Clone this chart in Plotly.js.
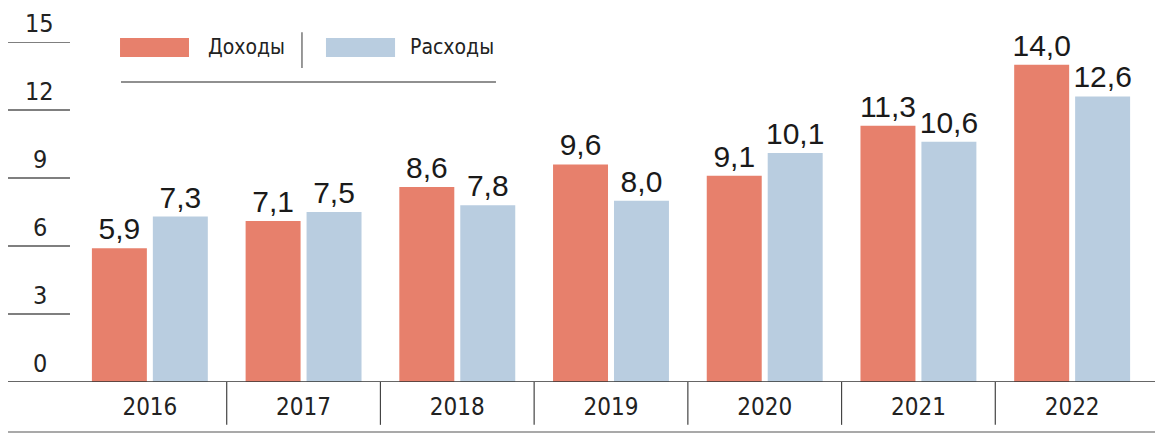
<!DOCTYPE html>
<html><head><meta charset="utf-8">
<script src="https://cdn.plot.ly/plotly-3.0.1.min.js"></script>
<style>html,body{margin:0;padding:0;background:#fff}#chart{width:1155px;height:434px}</style>
</head><body><div id="chart"></div>
<script>
const years = ['2016','2017','2018','2019','2020','2021','2022'];
const income = [5.9, 7.1, 8.6, 9.6, 9.1, 11.3, 14.0];
const expenses = [7.3, 7.5, 7.8, 8.0, 10.1, 10.6, 12.6];
const seriesNames = ['Доходы', 'Расходы'];
const yTicks = [0, 3, 6, 9, 12, 15];

const colIncome = '#E7806C';
const colExp = '#B9CDE0';
const narrow = '"Liberation Sans Narrow", "DejaVu Sans Condensed", "Arial Narrow", sans-serif';
const valFont = {family: '"Liberation Sans", Arial, sans-serif', size: 30, color: '#1a1a1a'};

const traces = [
  {type:'bar', x: years, y: income, name: seriesNames[0], marker:{color: colIncome},
   texttemplate:'%{y:.1f}', textposition:'outside', textfont: valFont, constraintext:'none', cliponaxis:false, hoverinfo:'skip'},
  {type:'bar', x: years, y: expenses, name: seriesNames[1], marker:{color: colExp},
   texttemplate:'%{y:.1f}', textposition:'outside', textfont: valFont, constraintext:'none', cliponaxis:false, hoverinfo:'skip'}
];

const shapes = [];
const annotations = [];
const lineL = -0.0604, lineR = -0.0028;
yTicks.forEach(v => {
  if (v > 0) shapes.push({type:'line', xref:'paper', yref:'y', x0:lineL, x1:lineR, y0:v, y1:v, line:{color:'#555', width:1.5}});
  annotations.push({xref:'paper', yref:'y', x:-0.0307, y:v, yshift:19, text:String(v), showarrow:false,
    xanchor:'center', yanchor:'middle', font:{family:narrow, size:25, color:'#222'}});
});
// baseline
shapes.push({type:'line', xref:'paper', yref:'y', x0:lineL, x1:1.01, y0:0, y1:0, line:{color:'#333', width:1.5}});
// bottom rule
shapes.push({type:'line', xref:'paper', yref:'paper', x0:lineL, x1:1.01, y0:-0.147, y1:-0.147, line:{color:'#555', width:1.2}});
// category separators
for (let i = 0; i < years.length - 1; i++) {
  shapes.push({type:'line', xref:'x', yref:'paper', x0:i+0.5, x1:i+0.5, y0:0, y1:-0.126, line:{color:'#444', width:1.2}});
}
// custom legend
shapes.push({type:'rect', xref:'paper', yref:'paper', x0:0.0437, x1:0.1078, y0:0.9559, y1:1.0118, line:{width:0}, fillcolor:colIncome});
shapes.push({type:'rect', xref:'paper', yref:'paper', x0:0.2351, x1:0.2993, y0:0.9559, y1:1.0118, line:{width:0}, fillcolor:colExp});
shapes.push({type:'line', xref:'paper', yref:'paper', x0:0.2128, x1:0.2128, y0:0.9235, y1:1.029, line:{color:'#555', width:1.2}});
shapes.push({type:'line', xref:'paper', yref:'paper', x0:0.0446, x1:0.3931, y0:0.8824, y1:0.8824, line:{color:'#222', width:1.2}});
annotations.push({xref:'paper', yref:'paper', x:0.1236, y:0.984, text:seriesNames[0], showarrow:false, xanchor:'left', yanchor:'middle', font:{family:narrow, size:21, color:'#222'}});
annotations.push({xref:'paper', yref:'paper', x:0.3113, y:0.984, text:seriesNames[1], showarrow:false, xanchor:'left', yanchor:'middle', font:{family:narrow, size:21, color:'#222'}});

const layout = {
  width:1155, height:434,
  margin:{l:73, r:6, t:42, b:52, pad:0},
  paper_bgcolor:'#fff', plot_bgcolor:'#fff',
  separators:', ',
  showlegend:false,
  barmode:'group', bargap:0.207, bargroupgap:0.098,
  xaxis:{type:'category', range:[-0.5, 6.5], showgrid:false, zeroline:false, showline:false, ticks:'',
    ticklabelstandoff:8, tickfont:{family:narrow, size:24, color:'#222'}, fixedrange:true},
  yaxis:{range:[0,15], showgrid:false, zeroline:false, showline:false, showticklabels:false, ticks:'', fixedrange:true},
  shapes: shapes,
  annotations: annotations
};
Plotly.newPlot('chart', traces, layout, {displayModeBar:false, staticPlot:true});
</script></body></html>
